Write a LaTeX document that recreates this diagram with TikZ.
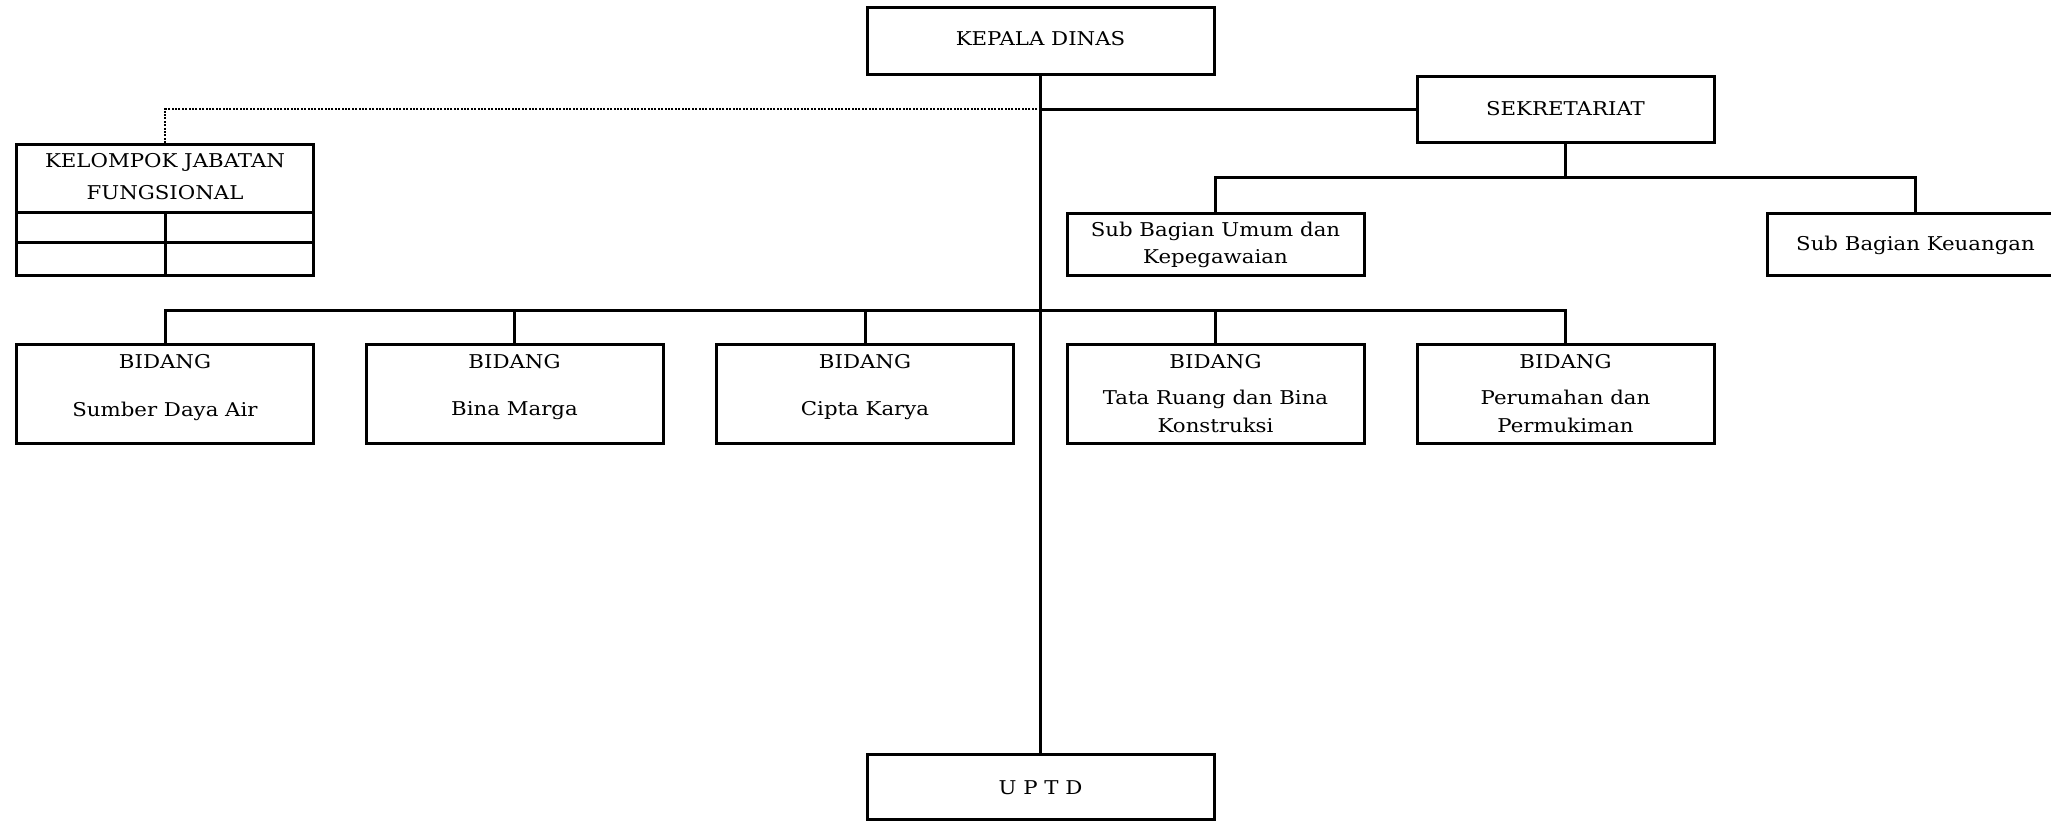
\documentclass[tikz,border=0pt]{standalone}
\usepackage{fontspec}
\setmainfont{DejaVu Serif}[FakeStretch=1.12]
\begin{document}
\begin{tikzpicture}[x=1pt,y=-1pt,
  box/.style={draw, line width=3pt, minimum width=297pt, inner sep=0pt},
  widebox/.style={box, minimum width=347pt},
  lbl/.style={font=\fontsize{19}{27.5}\selectfont, align=center, inner sep=0pt},
  conn/.style={line width=3pt},
  dotconn/.style={line width=2.5pt, dash pattern=on 2pt off 1.4pt}]
\useasboundingbox (0,0) rectangle (2051,822);

% boxes
\node[widebox, minimum height=67pt] (kd) at (1040.5,41) {};
\node[box, minimum height=66pt] (sek) at (1565.5,109.5) {};
\node[box, minimum height=62pt] (sbu) at (1215.5,244) {};
\node[box, minimum height=62pt] (sbk) at (1915.5,244) {};
\node[box, minimum height=131pt] (kjf) at (165,210) {};
\node[box, minimum height=99pt] (b1) at (165,394) {};
\node[box, minimum height=99pt] (b2) at (514.5,394) {};
\node[box, minimum height=99pt] (b3) at (865,394) {};
\node[box, minimum height=99pt] (b4) at (1215.5,394) {};
\node[box, minimum height=99pt] (b5) at (1565.5,394) {};
\node[widebox, minimum height=65pt] (uptd) at (1040.5,787) {};

% texts
\node[lbl] (tkd) at (1040.5,39) {KEPALA DINAS};
\node[lbl] (tsek) at (1565.5,108.5) {SEKRETARIAT};
\node[lbl] (tsbu) at (1215.5,245) {Sub Bagian Umum dan\\Kepegawaian};
\node[lbl] (tsbk) at (1915.5,245) {Sub Bagian Keuangan};
\node[lbl] (tkjf) at (165,177) {KELOMPOK JABATAN\\[4.5pt]FUNGSIONAL};
\node[lbl] (h1) at (165,362) {BIDANG};
\node[lbl] (h2) at (514.5,362) {BIDANG};
\node[lbl] (h3) at (865,362) {BIDANG};
\node[lbl] (h4) at (1215.5,362) {BIDANG};
\node[lbl] (h5) at (1565.5,362) {BIDANG};
\node[lbl] (n1) at (165,411) {Sumber Daya Air};
\node[lbl] (n2) at (514.5,411) {Bina Marga};
\node[lbl] (n3) at (865,411) {Cipta Karya};
\node[lbl] (n4) at (1215.5,411.5) {Tata Ruang dan Bina\\Konstruksi};
\node[lbl] (n5) at (1565.5,411.5) {Perumahan dan\\Permukiman};
\node[lbl] (tuptd) at (1040.5,788) {U P T D};

% KELOMPOK grid
\coordinate (g1l) at (16.5,212);
\coordinate (g1r) at (313.5,212);
\coordinate (g2l) at (16.5,242);
\coordinate (g2r) at (313.5,242);
\draw[conn] (g1l) -- (g1r);
\draw[conn] (g2l) -- (g2r);
\draw[conn] (kjf.south |- g1l) -- (kjf.south);

% connectors
\coordinate (j1) at (1040.5,109);
\coordinate (sekbar) at (1565.5,177);
\coordinate (bbar) at (1040.5,310);
\draw[conn] (kd.south) -- (uptd.north);
\draw[conn] (j1) -- (sek.west |- j1);
\draw[dotconn] (j1) -- (j1 -| kjf.north) -- (kjf.north);
\draw[conn] (sek.south) -- (sekbar);
\draw[conn, line join=miter] (sbu.north) |- (sekbar) -| (sbk.north);
\draw[conn, line join=miter] (b1.north) |- (bbar) -| (b5.north);
\draw[conn] (b2.north) -- (b2.north |- bbar);
\draw[conn] (b3.north) -- (b3.north |- bbar);
\draw[conn] (b4.north) -- (b4.north |- bbar);
\end{tikzpicture}
\end{document}
